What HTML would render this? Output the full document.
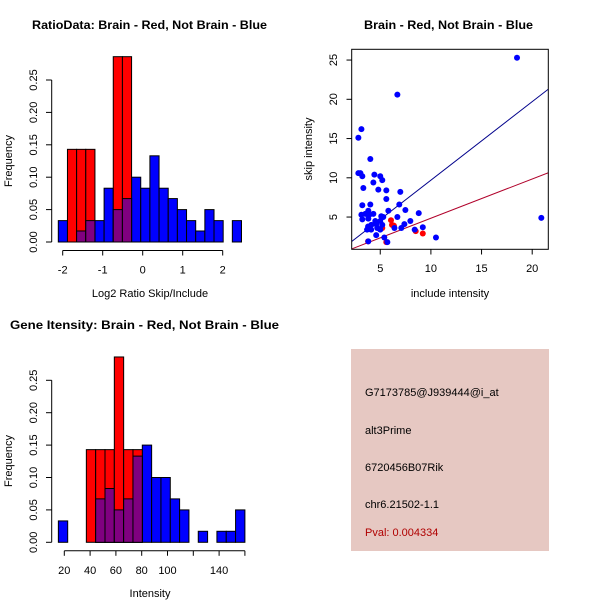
<!DOCTYPE html>
<html><head><meta charset="utf-8"><style>
body{margin:0;background:#fff}
svg{display:block;font-family:"Liberation Sans",sans-serif}
</style></head><body>
<svg id="c" width="600" height="600" xmlns="http://www.w3.org/2000/svg">
<rect width="600" height="600" fill="#fff"/>
<text x="32" y="29" font-size="12" font-weight="bold" textLength="235" lengthAdjust="spacingAndGlyphs">RatioData: Brain - Red, Not Brain - Blue</text>
<text x="364" y="29" font-size="12" font-weight="bold" textLength="169" lengthAdjust="spacingAndGlyphs">Brain - Red, Not Brain - Blue</text>
<text x="10" y="329" font-size="12" font-weight="bold" textLength="269" lengthAdjust="spacingAndGlyphs">Gene Itensity: Brain - Red, Not Brain - Blue</text>
<text x="150" y="297" font-size="11" text-anchor="middle">Log2 Ratio Skip/Include</text>
<text x="150" y="597" font-size="11" text-anchor="middle">Intensity</text>
<text transform="translate(12,161) rotate(-90)" font-size="11" text-anchor="middle">Frequency</text>
<text transform="translate(12,461) rotate(-90)" font-size="11" text-anchor="middle">Frequency</text>
<text x="450" y="297" font-size="11" text-anchor="middle">include intensity</text>
<text transform="translate(312,149) rotate(-90)" font-size="11" text-anchor="middle">skip intensity</text>
<g>
<rect x="351" y="349" width="198" height="202" fill="#e6c8c2"/>
<text x="365" y="396" font-size="11">G7173785@J939444@i_at</text>
<text x="365" y="434" font-size="11">alt3Prime</text>
<text x="365" y="471" font-size="11">6720456B07Rik</text>
<text x="365" y="508" font-size="11">chr6.21502-1.1</text>
<text x="365" y="536" font-size="11" fill="#b00000">Pval: 0.004334</text>
</g>
</svg>
<script>
// Ratio histogram data
const ratioBreakStart = -2.11, ratioBinWidth = 0.229;
const ratioBlue = [0.033,0,0.017,0.033,0.033,0.083,0.05,0.067,0.1,0.083,0.133,0.083,0.067,0.05,0.033,0.017,0.05,0.033,0,0.033];
const ratioRed  = [0,0.143,0.143,0.143,0,0,0.286,0.286,0,0,0,0,0,0,0,0,0,0,0,0];
const ratioTicks = [-2,-1,0,1,2];
// Intensity histogram data
const intBreakStart = 15.4, intBinWidth = 7.23;
const intBlue = [0.033,0,0,0,0.067,0.083,0.05,0.067,0.133,0.15,0.1,0.1,0.067,0.05,0,0.017,0,0.017,0.017,0.05];
const intRed  = [0,0,0,0.143,0.143,0.143,0.286,0.143,0.143,0,0,0,0,0,0,0,0,0,0,0];
const intTicks = [20,40,60,80,100,120,140,160];
const intTickLabels = ["20","40","60","80","100","","140",""];
const freqTicks = [0,0.05,0.10,0.15,0.20,0.25];
const freqTickLabels = ["0.00","0.05","0.10","0.15","0.20","0.25"];
// Scatter data
const blueX = [18.5,6.69,3.14,2.84,4.02,2.84,3.04,3.23,4.42,5.0,5.2,4.32,3.33,4.81,5.6,6.98,5.6,4.02,3.23,6.88,7.48,5.8,8.8,3.82,3.14,3.53,3.92,4.32,5.1,5.3,6.69,3.23,3.82,4.51,5.0,7.97,7.38,7.08,4.12,4.6,5.2,3.8,4.7,5.0,6.4,9.2,3.7,4.1,8.4,4.6,10.5,5.4,3.82,5.7,20.9];
const blueY = [25.3,20.6,16.2,15.1,12.4,10.6,10.6,10.2,10.4,10.2,9.7,9.4,8.7,8.5,8.4,8.2,7.3,6.6,6.5,6.6,5.9,5.8,5.5,5.8,5.3,5.4,5.3,5.4,5.1,5.0,5.0,4.7,4.8,4.5,4.5,4.5,4.1,3.6,4.0,4.1,4.0,3.8,3.6,3.4,3.6,3.7,3.4,3.4,3.4,2.7,2.4,2.4,1.9,1.8,4.9];
const redX = [6.06,6.16,6.35,8.5,9.2,5.2,5.6,3.8];
const redY = [4.6,4.0,3.9,3.2,2.9,3.6,1.8,1.9];
const blueFit = [1.0,-0.3];   // slope, intercept
const redFit = [0.5,-0.15];
const scXTicks = [5,10,15,20];
const scYTicks = [5,10,15,20,25];

const NS="http://www.w3.org/2000/svg", svg=document.getElementById('c');
function mk(tag,attrs,parent){const e=document.createElementNS(NS,tag);for(const k in attrs)e.setAttribute(k,attrs[k]);(parent||svg).appendChild(e);return e;}

function histogram(name,y0,xs,start,w,blue,red,ticks,tickLabels,axisX0,axisX1){
  const g=mk('g',{});
  
  
  const ys=v=>y0-648*v;
  for(let i=0;i<blue.length;i++){
    const a=xs(start+i*w), b=xs(start+(i+1)*w);
    if(blue[i]>0){const r=mk('rect',{x:a,y:ys(blue[i]),width:b-a,height:648*blue[i],fill:'#0000ff',stroke:'#000','stroke-width':1},g);
      
      }
  }
  for(let i=0;i<red.length;i++){
    const a=xs(start+i*w), b=xs(start+(i+1)*w);
    if(red[i]>0){const r=mk('rect',{x:a,y:ys(red[i]),width:b-a,height:648*red[i],fill:'#ff0000',stroke:'#000','stroke-width':1},g);
      
      
      const m=Math.min(red[i],blue[i]);
      if(m>0){const p=mk('rect',{x:a,y:ys(m),width:b-a,height:648*m,fill:'#800080',stroke:'#000','stroke-width':1},g);
        
        }
    }
  }
  const ya=mk('line',{x1:51.7,x2:51.7,y1:ys(0),y2:ys(0.25),stroke:'#000'},g);
  
  
  freqTicks.forEach((t,i)=>{
    mk('line',{x1:46,x2:51.7,y1:ys(t),y2:ys(t),stroke:'#000'},g);
    const tx=mk('text',{transform:`translate(37,${ys(t)}) rotate(-90)`,'font-size':11,'text-anchor':'middle'},g);
    tx.textContent=freqTickLabels[i];
    
    
  });
  const ax=y0+8.5;
  const xa=mk('line',{x1:xs(axisX0),x2:xs(axisX1),y1:ax,y2:ax,stroke:'#000'},g);
  
  
  ticks.forEach((t,i)=>{
    mk('line',{x1:xs(t),x2:xs(t),y1:ax,y2:ax+5,stroke:'#000'},g);
    const tx=mk('text',{x:xs(t),y:ax+23,'font-size':11,'text-anchor':'middle'},g);
    tx.textContent=tickLabels[i];
    
    
  });
}
histogram('ratio-histogram',242,v=>62.7+40*(v+2),ratioBreakStart,ratioBinWidth,ratioBlue,ratioRed,ratioTicks,ratioTicks.map(String),-2,2);
histogram('intensity-histogram',542.3,v=>64.3+1.29*(v-20),intBreakStart,intBinWidth,intBlue,intRed,intTicks,intTickLabels,20,160);

// Scatter
const sx=v=>329.6+10.13*v, sy=v=>256.3-7.85*v;
const sg=mk('g',{});


const cp=mk('clipPath',{id:'clp'},sg);
mk('rect',{x:351.7,y:49.3,width:196.6,height:200},cp);
const xmin=2.18,xmax=21.6;
[[blueFit,'#00008b','blue-fit-line'],[redFit,'#b0002a','red-fit-line']].forEach(([f,c,n])=>{
  const l=mk('line',{x1:sx(xmin),y1:sy(f[0]*xmin+f[1]),x2:sx(xmax),y2:sy(f[0]*xmax+f[1]),stroke:c,'stroke-width':1,'clip-path':'url(#clp)'},sg);
  
  
});
redX.forEach((x,i)=>{const c=mk('circle',{cx:sx(x),cy:sy(redY[i]),r:3,fill:'#ff0000'},sg);
  
  });
blueX.forEach((x,i)=>{const c=mk('circle',{cx:sx(x),cy:sy(blueY[i]),r:3,fill:'#0000ff'},sg);
  
  });
const box=mk('rect',{x:351.7,y:49.3,width:196.6,height:200,fill:'none',stroke:'#000'},sg);


scXTicks.forEach(t=>{
  mk('line',{x1:sx(t),x2:sx(t),y1:249.3,y2:254.5,stroke:'#000'},sg);
  const tx=mk('text',{x:sx(t),y:272,'font-size':11,'text-anchor':'middle'},sg);
  tx.textContent=t;
  
  
});
scYTicks.forEach(t=>{
  mk('line',{x1:346.5,x2:351.7,y1:sy(t),y2:sy(t),stroke:'#000'},sg);
  const tx=mk('text',{transform:`translate(337,${sy(t)}) rotate(-90)`,'font-size':11,'text-anchor':'middle'},sg);
  tx.textContent=t;
  
  
});
</script>
</body></html>
